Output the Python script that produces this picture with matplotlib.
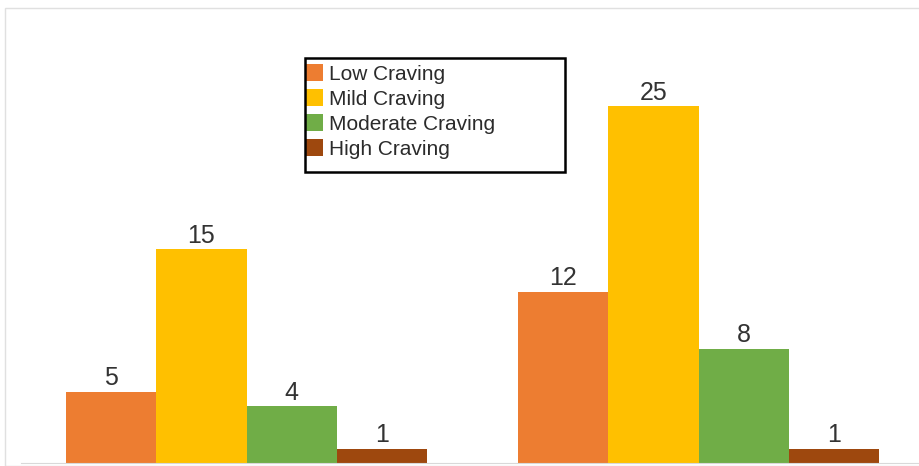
import matplotlib.pyplot as plt
import numpy as np
from matplotlib.patches import Rectangle

plt.rcParams['font.family'] = ['Liberation Sans', 'DejaVu Sans']

groups = ["Group 1", "Group 2"]
series = ["Low Craving", "Mild Craving", "Moderate Craving", "High Craving"]
low = [5, 12]
mild = [15, 25]
moderate = [4, 8]
high = [1, 1]
colors = ["#ED7D31", "#FFC000", "#70AD47", "#9E480E"]

W, H = 919, 466
fig = plt.figure(figsize=(W / 100, H / 100), dpi=100)
ax = fig.add_axes([20.5 / W, 3 / H, 904 / W, 428 / H])

x = np.arange(len(groups))
bw = 0.2
for i, (vals, c, name) in enumerate(zip([low, mild, moderate, high], colors, series)):
    pos = x + (i - 1.5) * bw
    bars = ax.bar(pos, vals, bw, color=c, label=name)
    for b, v in zip(bars, vals):
        ax.annotate(str(v), (b.get_x() + b.get_width() / 2, v), xytext=(0, 1),
                    textcoords="offset points", ha="center", va="bottom",
                    fontsize=18, color="#333333")

ax.set_xlim(-0.5, 1.5)
ax.set_ylim(0, 30)
for s in ["top", "left", "right"]:
    ax.spines[s].set_visible(False)
ax.spines["bottom"].set_color("#d9d9d9")
ax.set_xticks([])
ax.set_yticks([])
ax.patch.set_alpha(0)

# outer light border
fig.patches.append(Rectangle((5 / W, 0), 1, 1 - 8 / H, transform=fig.transFigure,
                             fill=False, edgecolor="#e0e0e0", linewidth=1))

# legend box
fig.patches.append(Rectangle((305 / W, 1 - 172 / H), 260 / W, 114 / H,
                             transform=fig.transFigure, fill=False,
                             edgecolor="black", linewidth=1.8, zorder=5))
ax.legend(loc="upper left", bbox_to_anchor=(306 / W, 1 - 64 / H),
          bbox_transform=fig.transFigure, frameon=False, fontsize=15,
          borderpad=0, borderaxespad=0, handlelength=0.8, handleheight=0.85,
          handletextpad=0.3, labelspacing=0.27, labelcolor="#2b2b2b")

fig.savefig("out.png", dpi=100)
